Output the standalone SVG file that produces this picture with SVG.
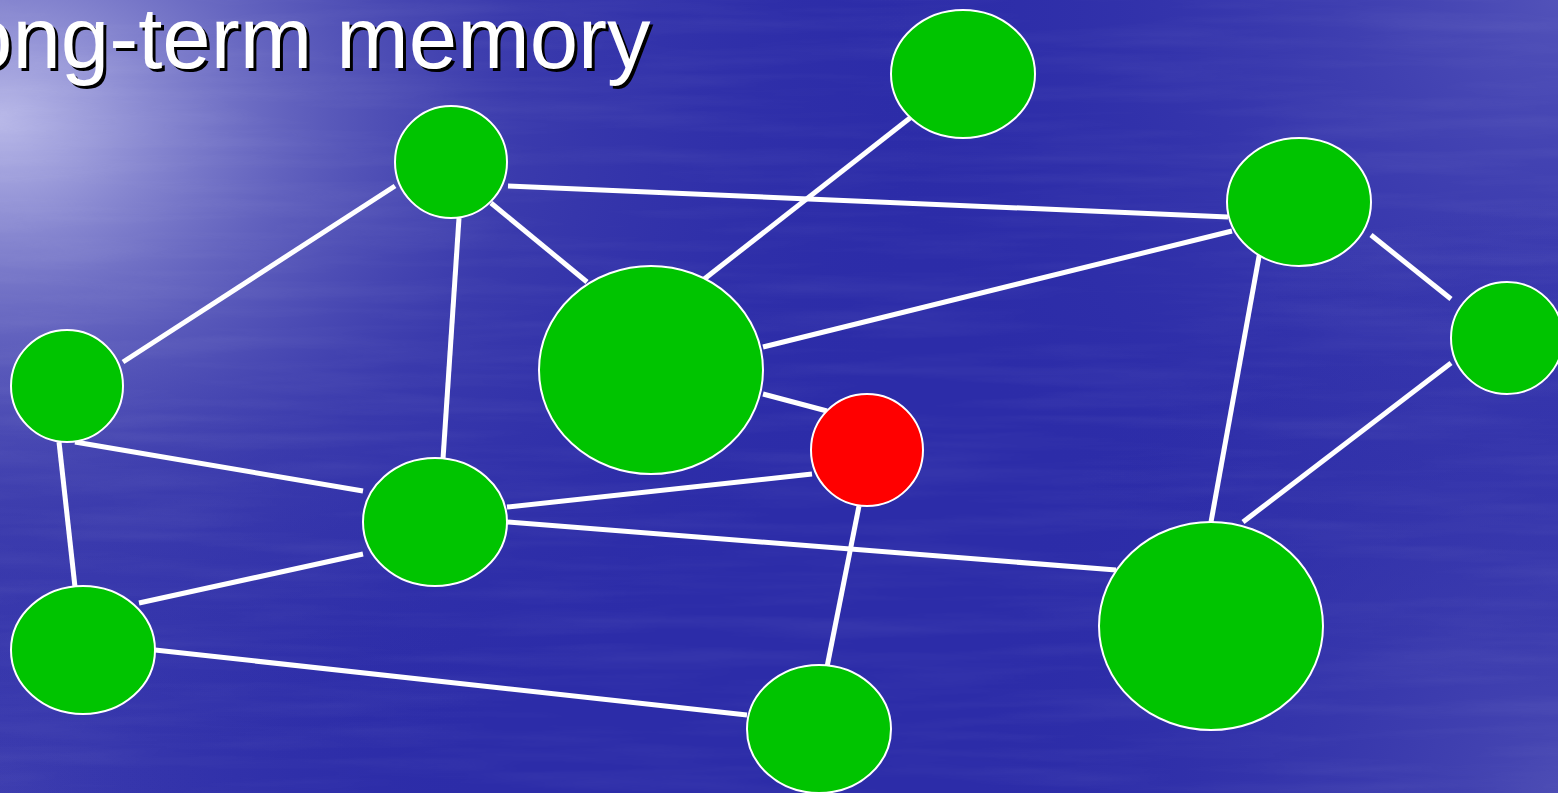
<svg xmlns="http://www.w3.org/2000/svg" width="1558" height="793" viewBox="0 0 1558 793">
  <defs>
    <radialGradient id="glowTL" cx="0" cy="120" r="950" gradientUnits="userSpaceOnUse" gradientTransform="translate(0 120) scale(1 0.75) translate(0 -120)">
      <stop offset="0" stop-color="#b8b8e8" stop-opacity="1"/>
      <stop offset="0.1" stop-color="#a0a0dc" stop-opacity="0.95"/>
      <stop offset="0.3" stop-color="#7a7ac8" stop-opacity="0.7"/>
      <stop offset="0.55" stop-color="#5454b4" stop-opacity="0.35"/>
      <stop offset="1" stop-color="#2c2ca8" stop-opacity="0"/>
    </radialGradient>
    <radialGradient id="glowTR" cx="1558" cy="0" r="700" gradientUnits="userSpaceOnUse">
      <stop offset="0" stop-color="#6262c0" stop-opacity="0.7"/>
      <stop offset="1" stop-color="#2c2ca8" stop-opacity="0"/>
    </radialGradient>
    <radialGradient id="glowBR" cx="1558" cy="793" r="600" gradientUnits="userSpaceOnUse">
      <stop offset="0" stop-color="#5656b8" stop-opacity="0.7"/>
      <stop offset="1" stop-color="#2c2ca8" stop-opacity="0"/>
    </radialGradient>
    <radialGradient id="glowBL" cx="0" cy="793" r="500" gradientUnits="userSpaceOnUse">
      <stop offset="0" stop-color="#4a4ab4" stop-opacity="0.6"/>
      <stop offset="1" stop-color="#2c2ca8" stop-opacity="0"/>
    </radialGradient>
    <filter id="water" x="0" y="0" width="100%" height="100%">
      <feTurbulence type="fractalNoise" baseFrequency="0.004 0.06" numOctaves="3" seed="4" result="n"/>
      <feColorMatrix type="matrix" values="0 0 0 0 1  0 0 0 0 1  0 0 0 0 1  0 0 0 0.9 -0.35"/>
    </filter>
    <style>
      .edge { stroke: #ffffff; stroke-width: 5; stroke-linecap: butt; fill: none; }
      .node { stroke: #ffffff; stroke-width: 2; }
      .g { fill: #00c400; }
      .r { fill: #ff0000; }
      .title { font-family: "Liberation Sans", Arial, sans-serif; font-size: 87px; }
    </style>
  </defs>

  <g id="background">
    <rect x="0" y="0" width="1558" height="793" fill="#2c2ca8"/>
    <rect x="0" y="0" width="1558" height="793" fill="url(#glowTR)"/>
    <rect x="0" y="0" width="1558" height="793" fill="url(#glowBR)"/>
    <rect x="0" y="0" width="1558" height="793" fill="url(#glowBL)"/>
    <rect x="0" y="0" width="1558" height="793" fill="url(#glowTL)"/>
    <rect x="0" y="0" width="1558" height="793" filter="url(#water)" opacity="0.1"/>
  </g>

  <g id="title">
    <text class="title" x="-33" y="71" fill="#000000">ong-term memory</text>
    <text class="title" x="-36" y="68" fill="#ffffff">ong-term memory</text>
  </g>

  <g id="connectors">
    <line class="edge" x1="395" y1="186" x2="123" y2="362"/>
    <line class="edge" x1="508" y1="186" x2="1228" y2="217"/>
    <line class="edge" x1="491" y1="203" x2="587" y2="282"/>
    <line class="edge" x1="459" y1="218" x2="443" y2="459"/>
    <line class="edge" x1="910" y1="118" x2="703" y2="280"/>
    <line class="edge" x1="1232" y1="231" x2="763" y2="347"/>
    <line class="edge" x1="1260" y1="251" x2="1211" y2="522"/>
    <line class="edge" x1="1371" y1="235" x2="1451" y2="299"/>
    <line class="edge" x1="1451" y1="363" x2="1243" y2="522"/>
    <line class="edge" x1="763" y1="394" x2="827" y2="411"/>
    <line class="edge" x1="812" y1="474" x2="507" y2="507"/>
    <line class="edge" x1="859" y1="506" x2="827" y2="667"/>
    <line class="edge" x1="75" y1="442" x2="363" y2="491"/>
    <line class="edge" x1="59" y1="442" x2="75" y2="587"/>
    <line class="edge" x1="363" y1="554" x2="139" y2="603"/>
    <line class="edge" x1="507" y1="522" x2="1116" y2="570"/>
    <line class="edge" x1="155" y1="650" x2="747" y2="715"/>
  </g>

  <g id="node-top"><ellipse class="node g" cx="963" cy="74" rx="72" ry="64"/></g>
  <g id="node-upper-left"><ellipse class="node g" cx="451" cy="162" rx="56" ry="56"/></g>
  <g id="node-upper-right"><ellipse class="node g" cx="1299" cy="202" rx="72" ry="64"/></g>
  <g id="node-far-right"><ellipse class="node g" cx="1507" cy="338" rx="56" ry="56"/></g>
  <g id="node-left"><ellipse class="node g" cx="67" cy="386" rx="56" ry="56"/></g>
  <g id="node-center-big"><ellipse class="node g" cx="651" cy="370" rx="112" ry="104"/></g>
  <g id="node-red"><ellipse class="node r" cx="867" cy="450" rx="56" ry="56"/></g>
  <g id="node-mid-left"><ellipse class="node g" cx="435" cy="522" rx="72" ry="64"/></g>
  <g id="node-bottom-left"><ellipse class="node g" cx="83" cy="650" rx="72" ry="64"/></g>
  <g id="node-bottom-center"><ellipse class="node g" cx="819" cy="729" rx="72" ry="64"/></g>
  <g id="node-right-big"><ellipse class="node g" cx="1211" cy="626" rx="112" ry="104"/></g>
</svg>
